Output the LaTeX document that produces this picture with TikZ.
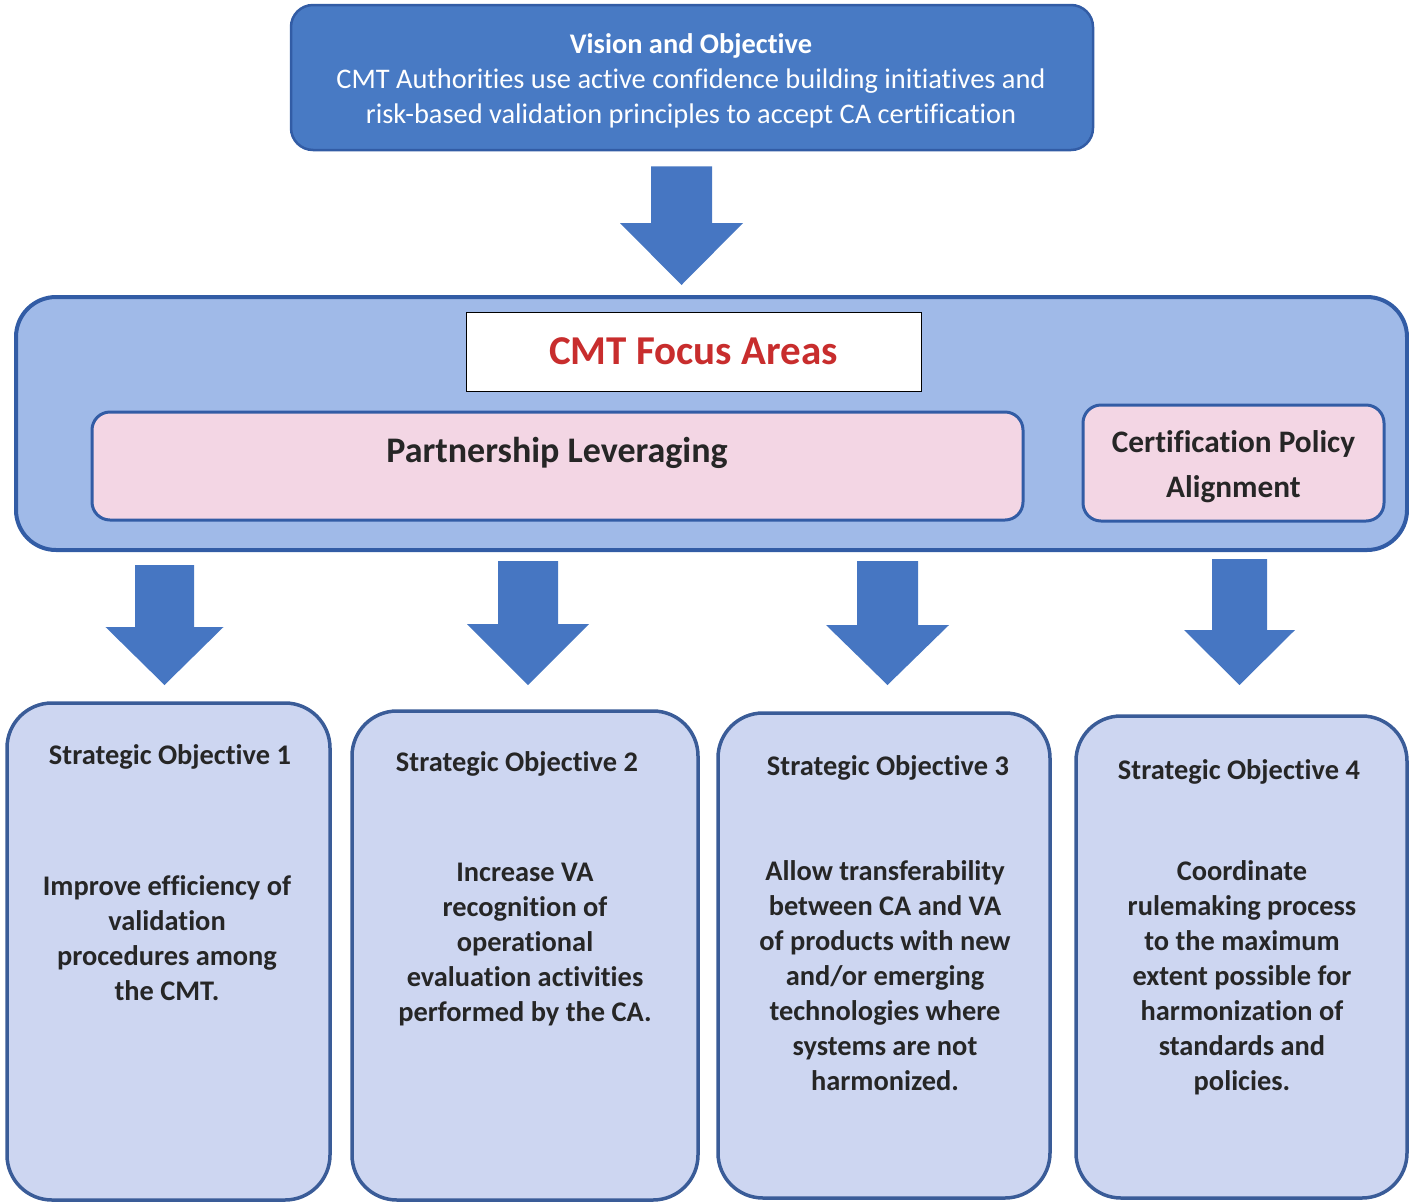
\documentclass[tikz,border=0pt]{standalone}
\usepackage{fontspec}
\setmainfont{Carlito}[Ligatures=NoCommon]
\usetikzlibrary{calc}
\definecolor{visionblue}{RGB}{72,122,196}
\definecolor{edgeblue}{RGB}{50,92,165}
\definecolor{focusblue}{RGB}{160,186,232}
\definecolor{areapink}{RGB}{243,214,228}
\definecolor{objfill}{RGB}{205,214,241}
\definecolor{objedge}{RGB}{58,92,152}
\definecolor{arrowblue}{RGB}{70,118,194}
\definecolor{focusred}{RGB}{200,45,45}
\definecolor{textgray}{RGB}{38,38,38}
% block arrow: top, tip, shaft half width, head half width, head length
\newcommand{\blockarrow}[5]{%
  \fill[arrowblue] ($(#1)+(-#3,0)$) -- ($(#1)+(#3,0)$) -- ($(#2)+(#3,-#5)$)
    -- ($(#2)+(#4,-#5)$) -- (#2) -- ($(#2)+(-#4,-#5)$) -- ($(#2)+(-#3,-#5)$) -- cycle;}
\begin{document}
\begin{tikzpicture}[x=1pt,y=-1pt,
    visionbox/.style={draw=edgeblue, line width=2.5pt, fill=visionblue, rounded corners=22pt, text=white, align=center},
    focusbox/.style={draw=edgeblue, line width=4pt, fill=focusblue, rounded corners=40pt},
    areabox/.style={draw=edgeblue, line width=3pt, fill=areapink, rounded corners=18pt},
    objbox/.style={draw=objedge, line width=3.5pt, fill=objfill, rounded corners=45pt},
    objtitle/.style={font=\bfseries\fontsize{28.4}{32}\selectfont, text=textgray},
    objtext/.style={font=\bfseries\fontsize{28.4}{35}\selectfont, text=textgray, align=center}]
        \useasboundingbox (0,0) rectangle (1409,1203);

        \node[visionbox, minimum width=802pt, minimum height=145pt] (vision) at (692,77.5) {};
        \node[text=white, align=center, font=\fontsize{28.4}{35}\selectfont] (visiontext) at (691,80.5)
            {\textbf{Vision and Objective}\\CMT Authorities use active confidence building initiatives and\\risk-based validation principles to accept CA certification};

        \node[focusbox, minimum width=1391pt, minimum height=253pt] (focus) at (711.5,423.5) {};
        \node[draw=black, line width=1pt, fill=white, minimum width=455pt, minimum height=79pt,
            text=focusred, font=\bfseries\fontsize{41}{46}\selectfont] (title) at (693.5,351.5) {CMT Focus Areas};
        \node[areabox, minimum width=931pt, minimum height=108pt] (partner) at (557.5,466) {};
        \node[text=textgray, font=\bfseries\fontsize{36}{40}\selectfont] (partnertext) at (557,453) {Partnership Leveraging};
        \node[areabox, minimum width=301pt, minimum height=116pt] (policy) at (1233.5,463) {};
        \node[text=textgray, align=center, font=\bfseries\fontsize{31.3}{45}\selectfont] (policytext) at (1233.5,467)
            {Certification Policy\\Alignment};

        \node[objbox, minimum width=323pt, minimum height=497pt] (obj1) at (168.5,951.5) {};
        \node[objbox, minimum width=346pt, minimum height=489pt] (obj2) at (525,955.5) {};
        \node[objbox, minimum width=332pt, minimum height=485pt] (obj3) at (884,955.5) {};
        \node[objbox, minimum width=331pt, minimum height=482pt] (obj4) at (1241.5,957) {};

        \node[objtitle] (title1) at (170,757) {Strategic Objective 1};
        \node[objtitle] (title2) at (517,764) {Strategic Objective 2};
        \node[objtitle] (title3) at (888,768) {Strategic Objective 3};
        \node[objtitle] (title4) at (1239,772) {Strategic Objective 4};

        \node[objtext] (text1) at (167,938.5) {Improve efficiency of\\validation\\procedures among\\the CMT.};
        \node[objtext] (text2) at (525,945) {Increase VA\\recognition of\\operational\\evaluation activities\\performed by the CA.};
        \node[objtext] (text3) at (885,976) {Allow transferability\\between CA and VA\\of products with new\\and/or emerging\\technologies where\\systems are not\\harmonized.};
        \node[objtext] (text4) at (1242,978) {Coordinate\\rulemaking process\\to the maximum\\extent possible for\\harmonization of\\standards and\\policies.};

        \coordinate (tipline) at (0,685);
        \blockarrow{$(vision.south)+(-10.5,15)$}{$(vision.south |- focus.north)+(-10.5,-10)$}{30.5}{61.5}{62}
        \blockarrow{$(obj1.north |- focus.south)+(-4,13)$}{$(obj1.north |- tipline)+(-4,0)$}{29.5}{59}{58}
        \blockarrow{$(obj2.north |- focus.south)+(3,9)$}{$(obj2.north |- tipline)+(3,0)$}{30}{61}{61}
        \blockarrow{$(obj3.north |- focus.south)+(3.5,9)$}{$(obj3.north |- tipline)+(3.5,0)$}{30.5}{61.5}{60}
        \blockarrow{$(obj4.north |- focus.south)+(-2,7)$}{$(obj4.north |- tipline)+(-2,0)$}{27.5}{55.5}{55}
    \end{tikzpicture}
\end{document}
